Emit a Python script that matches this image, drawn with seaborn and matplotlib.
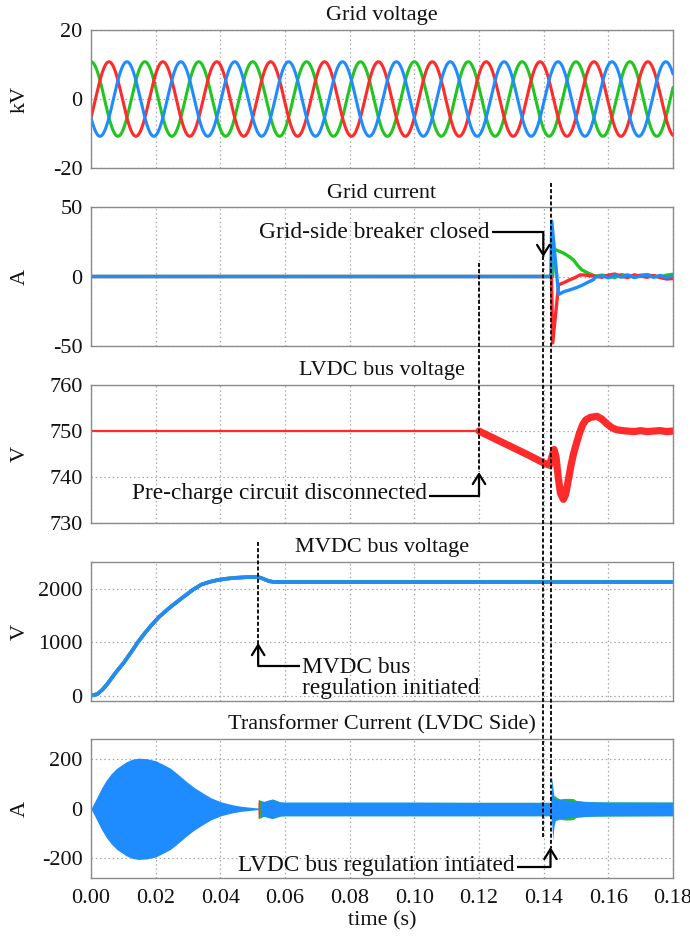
import numpy as np
import pandas as pd
import matplotlib
matplotlib.use("Agg")
import matplotlib.pyplot as plt
import seaborn as sns
from matplotlib.lines import Line2D
from matplotlib.transforms import blended_transform_factory

# ---------------- data ----------------
RED, GREEN, BLUE = "#ff2a2a", "#20c520", "#1e8cff"

# Grid voltage: three-phase sinusoid parameters
GV_PEAK_KV = 10.8
GRID_FREQ_HZ = 60.0
GV_PHASES_DEG = {"green": 0.0, "red": -120.0, "blue": 120.0}

# Grid current (A)
ic_tail_t = [0.156, 0.158, 0.160, 0.162, 0.164, 0.166, 0.168, 0.170, 0.172, 0.174, 0.176, 0.178, 0.180]
ic_blue_t = [0, 0.1422, 0.1425, 0.1446, 0.1462, 0.1482, 0.1502, 0.1522, 0.1538, 0.1553] + ic_tail_t
ic_blue_v = [0, 0, 40, -13, -11, -9.6, -8, -6, -4, -2.4,
             -0.5, 0.5, -1.0, 0.8, -0.5, 1.2, -0.8, 0.3, 1.0, -0.6, 0.8, -0.8, 0.4]
ic_red_t = [0, 0.1424, 0.1428, 0.1446, 0.1462, 0.1480, 0.1495, 0.1513, 0.1530, 0.1545] + ic_tail_t
ic_red_v = [0, 0, -48, -6, -4.5, -2.4, -1.0, 1.2, 1.0, 0.5,
            0.3, -0.6, 1.0, 1.8, 0.2, -0.8, 1.2, 0.3, -0.6, 0.8, -0.8, -1.8, -1.5]
ic_green_t = [0, 0.1428, 0.1433, 0.1440, 0.1461, 0.1478, 0.1492, 0.1505, 0.1518, 0.1538] + ic_tail_t
ic_green_v = [0, 0, 20, 19, 17, 14.5, 12, 8, 4.8, 2.4,
              0.2, 1.0, 0.4, -0.8, 1.4, 0.6, -0.4, 1.0, 1.4, 0.2, -0.4, 1.0, 1.6]

# LVDC bus voltage (V)
lv_flat_t = [0.0, 0.12]
lv_flat_v = [750, 750]
lv_t = [0.12, 0.125, 0.13, 0.135, 0.14, 0.1418, 0.1426, 0.1432, 0.1438, 0.1445, 0.1452,
        0.1461, 0.1468, 0.1476, 0.1484, 0.1492, 0.1500, 0.1510, 0.1520, 0.1530, 0.1545,
        0.1565, 0.1580, 0.1595, 0.1610, 0.1625, 0.1645, 0.166, 0.168, 0.170, 0.172,
        0.174, 0.176, 0.178, 0.180]
lv_v = [750, 748.3, 746.6, 744.9, 743.1, 742.6, 744.5, 746.0, 744.5, 740.0, 736.5,
        735.2, 736.3, 739.3, 742.4, 745.0, 747.0, 749.4, 751.3, 752.4, 753.0,
        753.2, 752.6, 751.6, 750.8, 750.3, 750.1, 750.0, 749.9, 750.1, 749.9,
        750.0, 750.1, 749.9, 750.0]

# MVDC bus voltage (V)
mv_t = [0, 0.002, 0.0035, 0.0052, 0.0075, 0.0103, 0.0125, 0.0145, 0.0165, 0.0186, 0.021,
        0.0238, 0.0265, 0.029, 0.0315, 0.0342, 0.0368, 0.0393, 0.042, 0.0445, 0.048,
        0.0512, 0.0525, 0.0538, 0.0552, 0.0564, 0.060, 0.180]
mv_v = [0, 30, 110, 230, 420, 630, 820, 1000, 1160, 1310, 1470,
        1620, 1750, 1865, 1980, 2080, 2130, 2165, 2188, 2204, 2215,
        2222, 2205, 2172, 2140, 2128, 2125, 2125]

# Transformer current envelope (A)
tc1_t = [0, 0.0017, 0.0032, 0.0048, 0.0063, 0.008, 0.011, 0.0128, 0.0147, 0.0172, 0.020,
         0.022, 0.0245, 0.027, 0.0295, 0.032, 0.0347, 0.037, 0.040, 0.042, 0.0439, 0.046,
         0.048, 0.051, 0.0524]
tc1_a = [0, 43, 82, 117, 142, 164, 190, 200, 204, 202, 194,
         181, 164, 138, 110, 85, 63, 45, 29, 22, 16, 11,
         8, 4, 3]
tc2_t = [0.0524, 0.0535, 0.0550, 0.0560, 0.0570, 0.0585, 0.060, 0.080, 0.100, 0.120,
         0.1422, 0.1425, 0.1428, 0.1432, 0.1436, 0.1440, 0.1450, 0.1465, 0.1480, 0.1500,
         0.1530, 0.1560, 0.1600, 0.1700, 0.1800]
tc2_up = [32, 30, 36, 38, 34, 28, 27, 27, 27, 26,
          26, 128, 90, 50, 42, 40, 38, 36, 34, 32,
          30, 28, 27, 27, 27]
tc2_lo = [-32, -30, -36, -38, -34, -29, -28, -28, -28, -28,
          -28, -60, -126, -70, -48, -44, -40, -38, -36, -33,
          -31, -29, -28, -28, -28]
tcg_t = [0.0519, 0.0520, 0.0526, 0.0535, 0.0550, 0.0560, 0.0570, 0.0585, 0.060, 0.1425,
         0.1433, 0.1440, 0.1450, 0.1465, 0.1480, 0.1492, 0.1500, 0.1530, 0.180]
tcg_up = [0, 36, 34, 28, 34, 40, 36, 27, 26, 26, 55, 46, 40, 42, 42, 41, 34, 28, 27]
tcg_lo = [0, -38, -36, -29, -35, -40, -36, -29, -28, -28, -44, -46, -42, -45, -45, -43, -35, -30, -28]
tcr_t = [0.0516, 0.0517, 0.0521, 0.0522]
tcr_up = [0, 36, 36, 0]
tcr_lo = [0, -38, -38, 0]

XTICKS = [0.00, 0.02, 0.04, 0.06, 0.08, 0.10, 0.12, 0.14, 0.16, 0.18]

# ---------------- style ----------------
sns.set_theme(style="white")
plt.rcParams["font.family"] = ["Liberation Serif", "DejaVu Serif"]
plt.rcParams["axes.unicode_minus"] = False
FS = 16
FS_ANN = 16.8

fig = plt.figure(figsize=(6.9, 9.41), dpi=100)
W, H = 690.0, 941.0
L, R = 91.0, 673.0
panels_px = [(30, 168), (207.3, 345.7), (385, 523.3), (562, 701), (739.3, 878.3)]
axes = []
for top, bot in panels_px:
    ax = fig.add_axes([L / W, 1 - bot / H, (R - L) / W, (bot - top) / H])
    axes.append(ax)

def style(ax, title, ylabel, ylim, yticks, last=False):
    ax.set_xlim(0, 0.18)
    ax.set_ylim(*ylim)
    ax.set_yticks(yticks)
    ax.set_yticklabels([str(v) for v in yticks])
    ax.set_xticks(XTICKS)
    ax.grid(True, linestyle=(0, (1.2, 2.2)), color="#a8a8a8", linewidth=0.9)
    for s in ax.spines.values():
        s.set_color("#8a8a8a")
        s.set_linewidth(1.0)
    ax.tick_params(axis="both", length=0, labelsize=FS, colors="#111111")
    ax.tick_params(axis="y", pad=6)
    ax.tick_params(axis="x", pad=8)
    ax.set_title(title, fontsize=FS, pad=7, color="#111111")
    ax.set_ylabel(ylabel, fontsize=FS, color="#111111")
    ax.yaxis.set_label_coords(-0.105, 0.5)
    if last:
        ax.set_xticklabels([f"{v:.2f}" for v in XTICKS])
        ax.set_xlabel("time (s)", fontsize=FS, labelpad=2, color="#111111")
    else:
        ax.set_xticklabels([])
        ax.set_xlabel("")

# Panel 1: grid voltage
ax = axes[0]
tg = np.linspace(0, 0.18, 3000)
for name, col in [("green", GREEN), ("red", RED), ("blue", BLUE)]:
    v = GV_PEAK_KV * np.cos(2 * np.pi * GRID_FREQ_HZ * tg + np.deg2rad(GV_PHASES_DEG[name]))
    sns.lineplot(x=tg, y=v, ax=ax, color=col, linewidth=2.2, estimator=None, sort=False)
style(ax, "Grid voltage", "kV", (-20, 20), [-20, 0, 20])

# Panel 2: grid current
ax = axes[1]
for t, v, col in [(ic_green_t, ic_green_v, GREEN), (ic_red_t, ic_red_v, RED), (ic_blue_t, ic_blue_v, BLUE)]:
    sns.lineplot(x=t, y=v, ax=ax, color=col, linewidth=2.4, estimator=None, sort=False)
style(ax, "Grid current", "A", (-50, 50), [-50, 0, 50])

# Panel 3: LVDC bus voltage
ax = axes[2]
sns.lineplot(x=lv_flat_t, y=lv_flat_v, ax=ax, color=RED, linewidth=1.6, estimator=None, sort=False)
sns.lineplot(x=lv_t, y=lv_v, ax=ax, color=RED, linewidth=5.2, estimator=None, sort=False)
style(ax, "LVDC bus voltage", "V", (730, 760), [730, 740, 750, 760])

# Panel 4: MVDC bus voltage
ax = axes[3]
for col in [RED, GREEN, BLUE]:
    sns.lineplot(x=mv_t, y=mv_v, ax=ax, color=col, linewidth=2.6, estimator=None, sort=False)
style(ax, "MVDC bus voltage", "V", (-100, 2500), [0, 1000, 2000])

# Panel 5: transformer current
ax = axes[4]
ax.fill_between(tcg_t, tcg_lo, tcg_up, color=GREEN, linewidth=0)
ax.fill_between(tcr_t, tcr_lo, tcr_up, color=RED, linewidth=0)
ax.fill_between(tc1_t, [-a for a in tc1_a], tc1_a, color=BLUE, linewidth=0)
ax.fill_between(tc2_t, tc2_lo, tc2_up, color=BLUE, linewidth=0)
style(ax, "Transformer Current (LVDC Side)", "A", (-280, 280), [-200, 0, 200], last=True)

# ---------------- annotations ----------------
tr = blended_transform_factory(axes[4].transData, fig.transFigure)

def fy(py):
    return 1 - py / H

def tx(px):
    return (px - L) / (R - L) * 0.18

DASH = dict(color="black", linewidth=1.3, linestyle=(0, (2.2, 1.2)))
SOLID = dict(color="black", linewidth=1.6)

def vdash(t, y0, y1):
    fig.add_artist(Line2D([t, t], [fy(y0), fy(y1)], transform=tr, **DASH))

def seg(x0, y0, x1, y1):
    fig.add_artist(Line2D([x0, x1], [fy(y0), fy(y1)], transform=tr, solid_capstyle="butt", **SOLID))

def arrow(t, y_from, y_to):
    axes[4].annotate("", xy=(t, fy(y_to)), xytext=(t, fy(y_from)), xycoords=tr, textcoords=tr,
                     arrowprops=dict(arrowstyle="->,head_length=0.45,head_width=0.28", color="black",
                                     lw=1.6, shrinkA=0, shrinkB=0, mutation_scale=16),
                     annotation_clip=False)

def label(t, py, s, ha):
    fig.text(t, fy(py), s, transform=tr, ha=ha, va="center", fontsize=FS_ANN, color="#111111")

# MVDC bus regulation initiated
t_mv = 0.0517
vdash(t_mv, 542, 645)
seg(t_mv, 666, tx(300), 666)
arrow(t_mv, 666, 643)
fig.text(tx(302), fy(678), "MVDC bus\nregulation initiated", transform=tr, ha="left", va="center",
         fontsize=FS_ANN, color="#111111", linespacing=1.02)

# Pre-charge circuit disconnected
t_pc = 0.12
vdash(t_pc, 263, 472)
seg(tx(429), 496, t_pc, 496)
arrow(t_pc, 496, 472)
label(tx(427), 494, "Pre-charge circuit disconnected", "right")

# Grid-side breaker closed
t_br = tx(543.3)
vdash(t_br, 256, 839)
seg(tx(492), 232, t_br, 232)
arrow(t_br, 232, 257)
label(tx(490), 232, "Grid-side breaker closed", "right")

# LVDC bus regulation initiated
t_lv = tx(550.5)
vdash(t_lv, 183, 848)
seg(tx(517), 867, t_lv, 867)
arrow(t_lv, 867, 847)
label(tx(515), 866, "LVDC bus regulation intiated", "right")

fig.savefig("out.png", dpi=100)
